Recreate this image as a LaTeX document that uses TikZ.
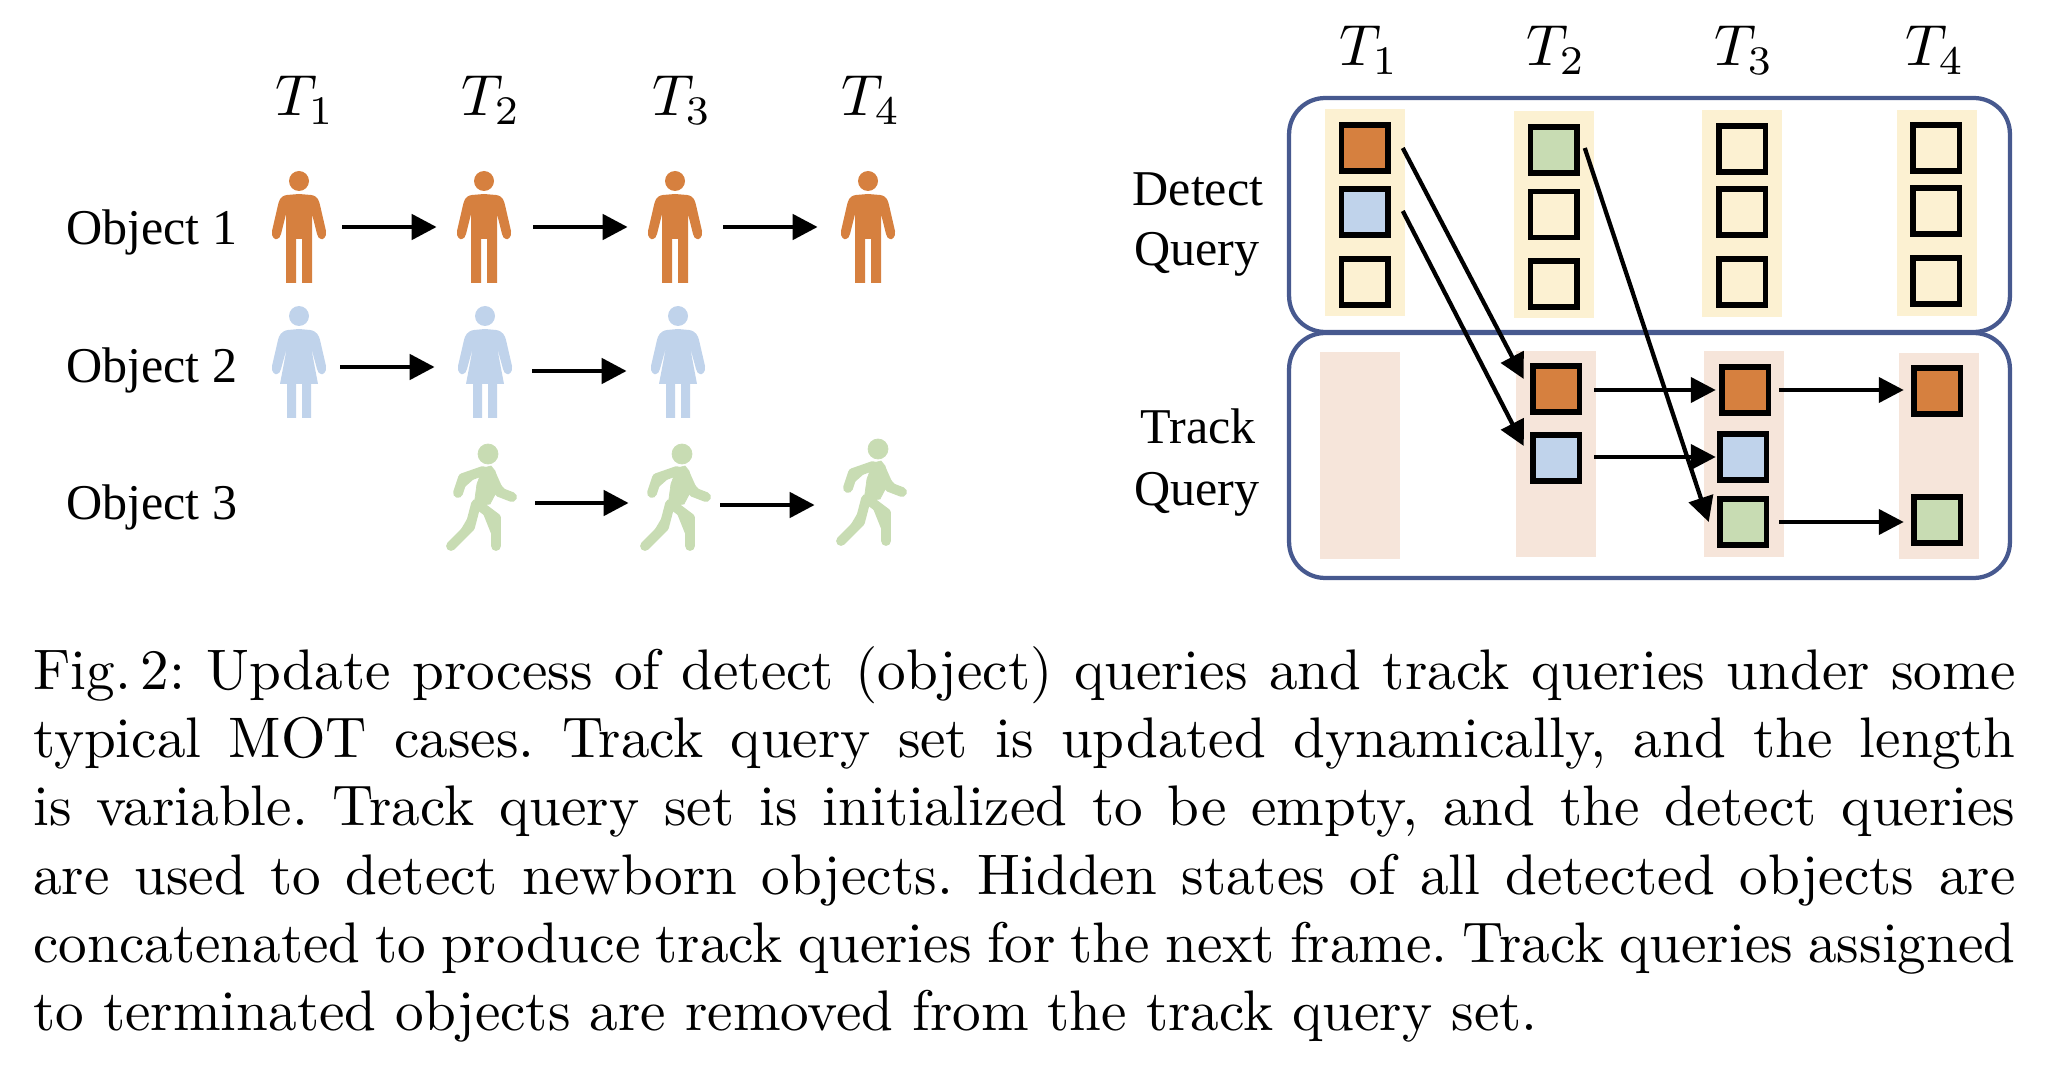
\documentclass[tikz,border=0pt]{standalone}
\usepackage{fontspec}
\newfontfamily\labfont{Liberation Serif}
\usepackage{tikz}
\usetikzlibrary{arrows.meta,positioning}
\definecolor{qorange}{HTML}{D6803F}
\definecolor{qblue}{HTML}{C0D3EB}
\definecolor{qgreen}{HTML}{C8DCB3}
\definecolor{softy}{HTML}{FCF1D2}
\definecolor{softp}{HTML}{F6E5DA}
\definecolor{framec}{HTML}{47598F}
\newcommand{\tsub}[1]{\scalebox{3.3}{$T_{#1}$}}
\tikzset{
  >={Triangle[length=5mm,width=5mm]},
  lab/.style={font=\fontsize{28.5}{34}\labfont,align=center,inner sep=0pt},
  tlab/.style={inner sep=0pt},
  arr/.style={->,draw=black,line width=0.85mm},
  larr/.style={arr,line width=0.95mm},
  fig/.style={minimum width=1.88cm,minimum height=2cm,inner sep=0pt},
  frame/.style={draw=framec,line width=0.85mm,rounded corners=7.2mm,inner sep=0pt,minimum width=14.42cm},
  strip/.style={minimum width=1.6cm,minimum height=4.14cm,inner sep=0pt},
  ystrip/.style={strip,fill=softy},
  pstrip/.style={strip,fill=softp},
  qbox/.style={draw=black,line width=1.1mm,minimum size=0.93cm,inner sep=0pt,outer sep=0pt},
  man/.pic={
    \fill[pic actions,shift={(0,-46)}] (0,0) circle[radius=10];
    \fill[pic actions,shift={(0,-46)}] (0,13) -- (12,14) .. controls (19,15) and (20,20) .. (21,24) -- (27,50) .. controls (28,56) and (24,59) .. (22,58) .. controls (20,58) and (19,56) .. (18,53) -- (13,33) -- (13,102) -- (3,102) -- (3,58) -- (-3,58) -- (-3,102) -- (-13,102) -- (-13,33) -- (-18,53) .. controls (-19,56) and (-20,58) .. (-22,58) .. controls (-24,59) and (-28,56) .. (-27,50) -- (-21,24) .. controls (-20,20) and (-19,15) .. (-12,14) -- cycle;
  },
  woman/.pic={
    \fill[pic actions,shift={(0,-46)}] (0,0) circle[radius=10];
    \fill[pic actions,shift={(0,-46)}] (0,13) -- (11,14) .. controls (18,15) and (20,20) .. (21,24) -- (27,50) .. controls (28,56) and (24,59) .. (22,58) .. controls (20,58) and (19,56) .. (18,53) -- (12,31) -- (19,68) -- (12,68) -- (12,102) -- (3,102) -- (3,68) -- (-3,68) -- (-3,102) -- (-12,102) -- (-12,68) -- (-19,68) -- (-12,31) -- (-18,53) .. controls (-19,56) and (-20,58) .. (-22,58) .. controls (-24,59) and (-28,56) .. (-27,50) -- (-21,24) .. controls (-20,20) and (-18,15) .. (-11,14) -- cycle;
  },
  runner/.pic={
    \fill[pic actions,shift={(0,-46)}] (0,0) circle[radius=10];
    \fill[pic actions,shift={(0,-46)}] (-5,14) -- (3,12) -- (7,17) -- (11,33) -- (2,50) -- (-14,52) -- (-11,30) -- cycle;
    \draw[pic actions,shift={(0,-46)},line width=5.6pt,line cap=round,line join=round] (-5,17) -- (-25,24) -- (-30,39);
    \draw[pic actions,shift={(0,-46)},line width=5.6pt,line cap=round,line join=round] (3,20) -- (11,38) -- (24,43);
    \draw[pic actions,shift={(0,-46)},line width=5.6pt,line cap=round,line join=round] (-12,50) -- (-18,73) -- (-37,92);
    \draw[pic actions,shift={(0,-46)},line width=5.6pt,line cap=round,line join=round] (-8,52) -- (8,64) -- (8,92);
  },
}
\begin{document}
\begin{tikzpicture}[x=0.02cm,y=-0.02cm]
\useasboundingbox (0,0) rectangle (2069,1084);
% left side
\node[tlab] (lt1) at (305,100) {\tsub{1}};
\node[tlab] (lt2) at (491,100) {\tsub{2}};
\node[tlab] (lt3) at (682,100) {\tsub{3}};
\node[tlab] (lt4) at (871,100) {\tsub{4}};
\node[lab,anchor=base west] (ob1) at (66,245) {Object 1};
\node[lab,anchor=base west] (ob2) at (66,383) {Object 2};
\node[lab,anchor=base west] (ob3) at (66,519) {Object 3};
\node[fig] (m1) at (299,227) {}; \node[fig] (m2) at (484,227) {}; \node[fig] (m3) at (675,227) {}; \node[fig] (m4) at (868,227) {};
\node[fig] (w1) at (299,362) {}; \node[fig] (w2) at (485,362) {}; \node[fig] (w3) at (678,362) {};
\node[fig] (r1) at (488,500) {}; \node[fig] (r2) at (682,500) {}; \node[fig] (r3) at (878,495) {};
\pic[fill=qorange] at (m1) {man}; \pic[fill=qorange] at (m2) {man}; \pic[fill=qorange] at (m3) {man}; \pic[fill=qorange] at (m4) {man};
\pic[fill=qblue] at (w1) {woman}; \pic[fill=qblue] at (w2) {woman}; \pic[fill=qblue] at (w3) {woman};
\pic[fill=qgreen,draw=qgreen] at (r1) {runner}; \pic[fill=qgreen,draw=qgreen] at (r2) {runner}; \pic[fill=qgreen,draw=qgreen] at (r3) {runner};
\draw[larr] ([shift={(-4,0)}]m1.east) -- (m2.west); \draw[larr] ([shift={(2,0)}]m2.east) -- (m3.west); \draw[larr] ([shift={(1,0)}]m3.east) -- ([shift={(-3,0)}]m4.west);
\draw[larr] ([shift={(-6,5)}]w1.east) -- ([shift={(-3,5)}]w2.west); \draw[larr] ([shift={(0,9)}]w2.east) -- ([shift={(-4,9)}]w3.west);
\draw[larr] ([shift={(0,3)}]r1.east) -- ([shift={(-6,3)}]r2.west); \draw[larr] ([shift={(-9,5)}]r2.east) -- ([shift={(-16,10)}]r3.west);
% right side
\node[tlab] (rt1) at (1369,50) {\tsub{1}};
\node[tlab] (rt2) at (1556,50) {\tsub{2}};
\node[tlab] (rt3) at (1744,50) {\tsub{3}};
\node[tlab] (rt4) at (1935,50) {\tsub{4}};
\node[lab,anchor=base] (dl1) at (1198,206) {Detect};
\node[lab,anchor=base] (dl2) at (1197,266) {Query};
\node[lab,anchor=base] (tl1) at (1198,443) {Track};
\node[lab,anchor=base] (tl2) at (1197,505) {Query};
\node[frame,minimum height=4.68cm] (dframe) at (1649.5,215) {};
\node[frame,minimum height=4.9cm] (tframe) at (1649.5,455.5) {};
\node[ystrip] (ds1) at (1365,212.5) {}; \node[ystrip] (ds2) at (1553.5,214.5) {}; \node[ystrip] (ds3) at (1742,213.5) {}; \node[ystrip] (ds4) at (1936.5,213) {};
\node[pstrip] (ts1) at (1359.5,455.5) {}; \node[pstrip] (ts2) at (1555.5,454) {}; \node[pstrip] (ts3) at (1743.5,454) {}; \node[pstrip] (ts4) at (1939,456) {};
\node[qbox,fill=qorange] (d11) at (1364.5,148) {}; \node[qbox,fill=qblue] (d12) at (1364.5,212) {}; \node[qbox,fill=softy] (d13) at (1364.5,282) {};
\node[qbox,fill=qgreen] (d21) at (1553.5,150) {}; \node[qbox,fill=softy] (d22) at (1553.5,214.5) {}; \node[qbox,fill=softy] (d23) at (1553.5,284) {};
\node[qbox,fill=softy] (d31) at (1742,149) {}; \node[qbox,fill=softy] (d32) at (1742,212) {}; \node[qbox,fill=softy] (d33) at (1742,282) {};
\node[qbox,fill=softy] (d41) at (1936,148) {}; \node[qbox,fill=softy] (d42) at (1936,211) {}; \node[qbox,fill=softy] (d43) at (1936,281) {};
\node[qbox,fill=qorange] (t21) at (1556,389) {}; \node[qbox,fill=qblue] (t22) at (1556,458) {};
\node[qbox,fill=qorange] (t31) at (1745,390) {}; \node[qbox,fill=qblue] (t32) at (1743,457) {}; \node[qbox,fill=qgreen] (t33) at (1743,522) {};
\node[qbox,fill=qorange] (t41) at (1937,391) {}; \node[qbox,fill=qgreen] (t43) at (1937,520) {};
\draw[arr] ([shift={(15,0)}]d11.east) -- ([shift={(-9,-10)}]t21.west);
\draw[arr] ([shift={(15,-1)}]d12.east) -- ([shift={(-9,-12)}]t22.west);
\draw[arr] ([shift={(8,-2)}]d21.east) -- ([shift={(-11,0)}]t33.west);
\draw[arr] ([shift={(15,1)}]t21.east) -- ([shift={(-6,0)}]t31.west); \draw[arr] ([shift={(15,-1)}]t22.east) -- ([shift={(-4,0)}]t32.west);
\draw[arr] ([shift={(11,0)}]t31.east) -- ([shift={(-10,-1)}]t41.west); \draw[arr] ([shift={(13,0)}]t33.east) -- ([shift={(-10,2)}]t43.west);
% caption
\node[anchor=north west,inner sep=0pt] (cap) at (33,646) {\scalebox{3.255}{\parbox[t]{346.6pt}{\fontsize{10}{11.95}\selectfont\frenchspacing Fig.\,2: Update process of detect (object) queries and track queries under some\linebreak typical MOT cases. Track query set is updated dynamically, and the length\linebreak is variable. Track query set is initialized to be empty, and the detect queries\linebreak are used to detect newborn objects. Hidden states of all detected objects are\linebreak concatenated to produce track queries for the next frame. Track queries assigned\linebreak to terminated objects are removed from the track query set.}}};
\end{tikzpicture}
\end{document}
